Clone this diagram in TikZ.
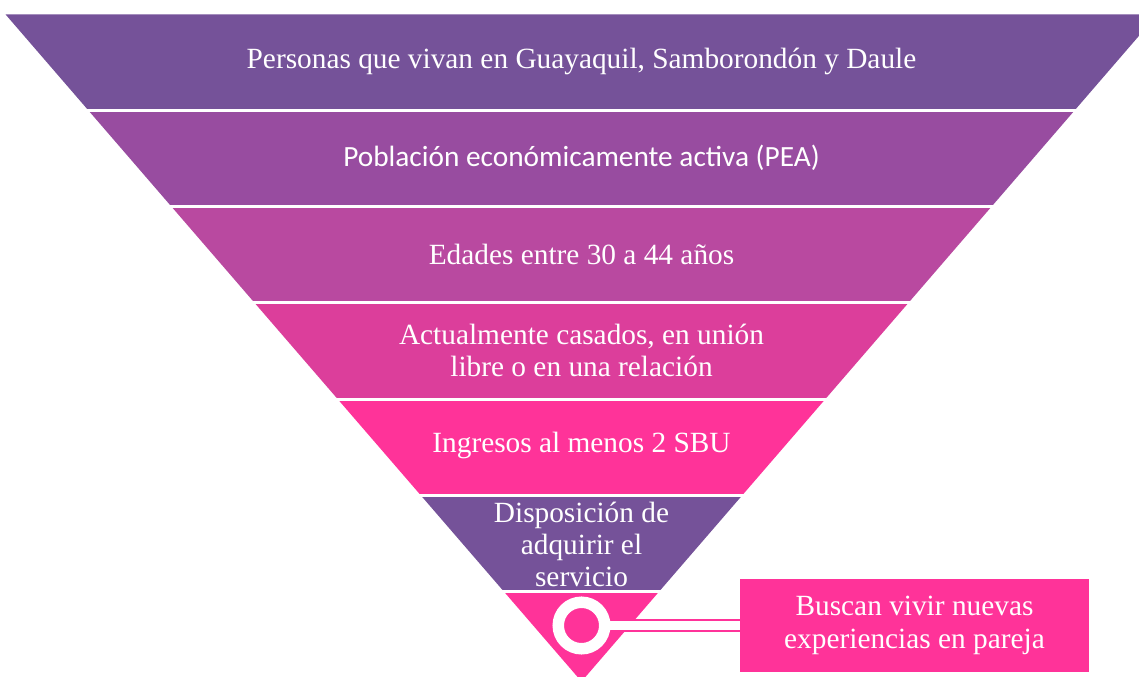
\documentclass[tikz,border=0pt]{standalone}
\usepackage{fontspec}
\setmainfont{Liberation Serif}
\newfontfamily\calibrifont{Carlito}
\definecolor{lilac}{RGB}{117,82,153}
\definecolor{orchid}{RGB}{152,76,160}
\definecolor{mauve}{RGB}{185,73,160}
\definecolor{rosa}{RGB}{220,62,155}
\definecolor{fucsia}{RGB}{255,51,153}

\begin{document}
\begin{tikzpicture}
[x=.75pt,y=-.75pt]
\tikzset{gap/.style={white,line width=2.25pt}}
\tikzset{lbl/.style={text=white,align=center,font=\fontsize{22}{24}\selectfont}}
\tikzset{ring/.style={circle,fill=fucsia,draw=white,line width=8.6pt,minimum size=34.9pt,inner sep=0pt}}
\tikzset{callout/.style={lbl,fill=fucsia,minimum width=261.75pt,minimum height=69.75pt,inner sep=0pt,font=\fontsize{22}{25}\selectfont}}
\tikzset{link/.style={draw=fucsia,double=white,double distance=6.75pt,line width=1.3pt}}
\useasboundingbox (0,0) rectangle (1139,677);
\clip (0,0) rectangle (1139,677);
% funnel layers
\fill [lilac] (5.6,14.5) -- (1157.4,14.5) -- (1074.1,111) -- (88.9,111) -- cycle;
\fill [orchid] (88.9,111) -- (1074.1,111) -- (991.2,207) -- (171.8,207) -- cycle;
\fill [mauve] (171.8,207) -- (991.2,207) -- (908.3,303) -- (254.7,303) -- cycle;
\fill [rosa] (254.7,303) -- (908.3,303) -- (825.4,399) -- (337.6,399) -- cycle;
\fill [fucsia] (337.6,399) -- (825.4,399) -- (742.5,495) -- (420.5,495) -- cycle;
\fill [lilac] (420.5,495) -- (742.5,495) -- (659.6,591) -- (503.4,591) -- cycle;
\fill [fucsia] (503.4,591) -- (659.6,591) -- (581.5,681.5) -- cycle;
\foreach \y in {111,207,303,399,495,591}
	\draw [gap] (0,\y) -- (1139,\y);

\node [lbl] (pers) at (581.5,61) {Personas que vivan en Guayaquil, Samborondón y Daule};
\node [lbl,font=\calibrifont\fontsize{22}{24}\selectfont] (pea) at (581.5,158) {Población económicamente activa (PEA)};
\node [lbl] (edad) at (581.5,254) {Edades entre 30 a 44 años};
\node [lbl] (civil) at (581.5,350) {Actualmente casados, en unión\\libre o en una relación};
\node [lbl] (ingr) at (581.5,445) {Ingresos al menos 2 SBU};
\node [lbl] (disp) at (581.5,544) {Disposición de\\adquirir el\\servicio};

\node [callout] (box) at (914.5,625.5) {Buscan vivir nuevas\\experiencias en pareja};
\coordinate (hub) at (581.5,625.5);
\draw [link] (hub) -- (box);
\node [ring] (dot) at (hub) {};
\end{tikzpicture}
\end{document}
